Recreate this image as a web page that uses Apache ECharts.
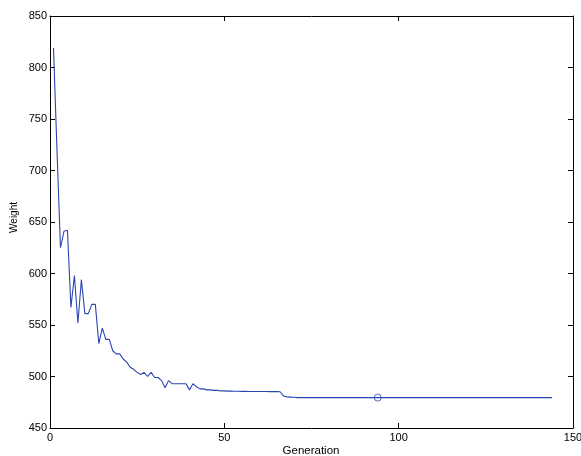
<!DOCTYPE html>
<html>
<head>
<meta charset="utf-8">
<script src="https://cdn.jsdelivr.net/npm/echarts@6/dist/echarts.min.js"></script>
<style>html,body{margin:0;padding:0;background:#fff;}#c{width:581px;height:456px;}</style>
</head>
<body>
<div id="c"></div>
<script>
// Weight per generation (generation 1..144)
var weights = [
  819,720,625,641,642,567,598,552,594,561,
  561,570,570,532,547,536,536,525,522,522,
  517,514,509,507,504,502,504,500,504,499,
  499,496,489,496,493,493,493,493,493,487,
  493,490,488,488,487,487,486.5,486.5,486,486,
  485.8,485.8,485.7,485.7,485.6,485.6,485.5,485.5,485.5,485.4,
  485.4,485.4,485.3,485.3,485.3,485.2,481,480.2,480,479.8,
  479.5,479.5,479.5,479.5,479.5,479.5,479.5,479.5,479.5,479.5,
  479.5,479.5,479.5,479.5,479.5,479.5,479.5,479.5,479.5,479.5,
  479.5,479.5,479.5,479.5,479.5,479.5,479.5,479.5,479.5,479.5,
  479.5,479.5,479.5,479.5,479.5,479.5,479.5,479.5,479.5,479.5,
  479.5,479.5,479.5,479.5,479.5,479.5,479.5,479.5,479.5,479.5,
  479.5,479.5,479.5,479.5,479.5,479.5,479.5,479.5,479.5,479.5,
  479.5,479.5,479.5,479.5,479.5,479.5,479.5,479.5,479.5,479.5,
  479.5,479.5,479.5,479.5
];
var bestGen = [94];
var bestWeight = [479.5];
var xTicks = [0, 50, 100, 150];
var yTicks = [450, 500, 550, 600, 650, 700, 750, 800, 850];
var xLabel = 'Generation';
var yLabel = 'Weight';

var lineData = weights.map(function (w, i) { return [i + 1, w]; });
var bestData = bestGen.map(function (g, i) { return [g, bestWeight[i]]; });

var font = '"Liberation Sans", Arial, Helvetica, sans-serif';
var lineColor = '#2a45b0';

function xAxisDef(pos, showLabel) {
  return {
    type: 'value', position: pos,
    min: xTicks[0], max: xTicks[xTicks.length - 1], interval: 50,
    axisLine: { show: true, onZero: false, lineStyle: { color: '#000', width: 1 } },
    axisTick: { show: true, inside: true, length: 5, lineStyle: { color: '#000' } },
    axisLabel: { show: showLabel, color: '#000', fontSize: 11, fontFamily: font, margin: 4 },
    splitLine: { show: false }
  };
}
function yAxisDef(pos, showLabel) {
  return {
    type: 'value', position: pos,
    min: yTicks[0], max: yTicks[yTicks.length - 1], interval: 50,
    axisLine: { show: true, onZero: false, lineStyle: { color: '#000', width: 1 } },
    axisTick: { show: true, inside: true, length: 5, lineStyle: { color: '#000' } },
    axisLabel: { show: showLabel, color: '#000', fontSize: 11, fontFamily: font, margin: 3 },
    splitLine: { show: false }
  };
}

var chart = echarts.init(document.getElementById('c'), null, { renderer: 'canvas' });
chart.setOption({
  animation: false,
  backgroundColor: '#fff',
  grid: { left: 50, right: 8, top: 16, bottom: 28, containLabel: false, outerBoundsMode: 'none' },
  xAxis: [xAxisDef('bottom', true), xAxisDef('top', false)],
  yAxis: [yAxisDef('left', true), yAxisDef('right', false)],
  graphic: [
    {
      type: 'text',
      left: 9, top: 202,
      rotation: Math.PI / 2,
      style: { text: yLabel, fill: '#000', fontSize: 10, fontFamily: font }
    },
    {
      type: 'text',
      x: 311, y: 445,
      style: { text: xLabel, fill: '#000', fontSize: 11.5, fontFamily: font, align: 'center', verticalAlign: 'top' }
    }
  ],
  series: [
    {
      type: 'line', xAxisIndex: 0, yAxisIndex: 0,
      data: lineData, showSymbol: false, symbol: 'none',
      lineStyle: { color: lineColor, width: 1.1 },
      z: 2
    },
    {
      type: 'scatter', xAxisIndex: 0, yAxisIndex: 0,
      data: bestData, symbol: 'circle', symbolSize: 7,
      itemStyle: { color: 'rgba(255,255,255,0)', borderColor: lineColor, borderWidth: 1 },
      z: 3
    }
  ]
});
</script>
</body>
</html>
